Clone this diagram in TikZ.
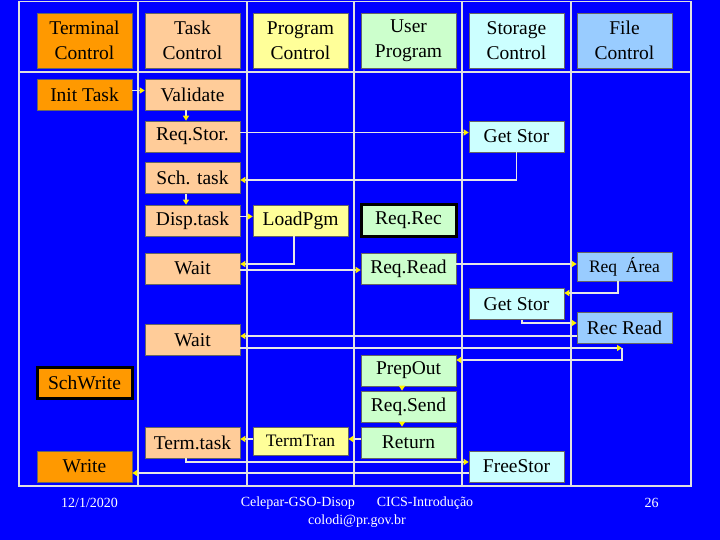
\documentclass[tikz,border=0pt]{standalone}
\usepackage{fontspec}
\setmainfont{Liberation Serif}
\usetikzlibrary{arrows.meta}
\definecolor{bg}{HTML}{0000FF}
\definecolor{orng}{HTML}{FF9900}
\definecolor{peach}{HTML}{FFCC99}
\definecolor{lyel}{HTML}{FFFF99}
\definecolor{lgrn}{HTML}{CCFFCC}
\definecolor{lcyan}{HTML}{CCFFFF}
\definecolor{lblue}{HTML}{99CCFF}
\definecolor{wire}{HTML}{E6E6E6}
\definecolor{gridc}{HTML}{E0E0E0}
\begin{document}
\begin{tikzpicture}[x=1pt,y=-1pt,
  box/.style={draw=black!60, line width=0.6pt, inner sep=0pt, minimum width=95pt,
    minimum height=31pt, font=\fontsize{19.5}{22}\selectfont, text=black},
  hdr/.style={box, minimum height=55pt, align=center, font=\fontsize{19.5}{25}\selectfont},
  boldbox/.style={box, draw=black, line width=3pt},
  smallbox/.style={box, font=\fontsize{17.5}{20}\selectfont},
  gridline/.style={draw=gridc, line width=1.1pt},
  conn/.style={draw=wire, line width=1.8pt, -{Triangle[length=5pt,width=6pt,color=yellow]}},
  foot/.style={text=white, font=\fontsize{14}{16}\selectfont, inner sep=0pt}
]
\fill[bg] (0,0) rectangle (720,540);
\useasboundingbox (0,0) rectangle (720,540);
% grid
\draw[gridline] (19,1.5) rectangle (691,486);
\draw[gridline] (19,72) -- (691,72);
\foreach \gx in {138,247,354,462,571} \draw[gridline] (\gx,1.5) -- (\gx,486);
% header
\node[hdr, fill=orng]  (term) at (84.5,40.5)  {Terminal\\Control};
\node[hdr, fill=peach] (task) at (192.5,40.5) {Task\\Control};
\node[hdr, fill=lyel]  (prog) at (300.5,40.5) {Program\\Control};
\node[hdr, fill=lgrn]  (user) at (408.5,40.5) {User\\Program};
\node[hdr, fill=lcyan] (stor) at (516.5,40.5) {Storage\\Control};
\node[hdr, fill=lblue] (file) at (624.5,40.5) {File\\Control};
% nodes
\node[box, fill=orng]  (init)     at (84.5,94.5)   {Init Task};
\node[box, fill=peach] (valid)    at (192.5,94.5)  {Validate};
\node[box, fill=peach] (reqstor)  at (192.5,136.5) {Req.Stor.};
\node[box, fill=lcyan] (getstor1) at (516.5,136.5) {Get Stor};
\node[box, fill=peach] (schtask)  at (192.5,178)   {Sch. task};
\node[box, fill=peach] (disp)     at (192.5,220.5) {Disp.task};
\node[box, fill=lyel]  (load)     at (300.5,220.5) {LoadPgm};
\node[boldbox, fill=lgrn] (reqrec) at (408.5,220.5) {Req.Rec};
\node[box, fill=peach] (wait1)    at (192.5,268.5) {Wait};
\node[box, fill=lgrn]  (reqread)  at (408.5,268.5) {Req.Read};
\node[smallbox, fill=lblue, minimum height=29pt] (reqarea) at (624.5,266.5) {Req\ \ Área};
\node[box, fill=lcyan] (getstor2) at (516.5,304)   {Get Stor};
\node[box, fill=lblue] (recread)  at (624.5,328)   {Rec Read};
\node[box, fill=peach] (wait2)    at (192.5,340)   {Wait};
\node[boldbox, fill=orng] (schwrite) at (84.5,382.5) {SchWrite};
\node[box, fill=lgrn]  (prepout)  at (408.5,370.5) {PrepOut};
\node[box, fill=lgrn]  (reqsend)  at (408.5,406.5) {Req.Send};
\node[box, fill=lgrn]  (return)   at (408.5,442.5) {Return};
\node[smallbox, fill=lyel, minimum height=28pt] (termtran) at (300.5,441) {TermTran};
\node[box, fill=peach] (termtask) at (192.5,442.5) {Term.task};
\node[box, fill=lcyan] (freestor) at (516.5,466.5) {FreeStor};
\node[box, fill=orng]  (write)    at (84.5,466.5)  {Write};
\coordinate (rr) at (622,348);
% connectors
\draw[conn] ([yshift=4pt]init.east) -- ([yshift=4pt]valid.west);
\draw[conn] ([xshift=-6.5pt]valid.south) -- ([xshift=-6.5pt]reqstor.north);
\draw[conn] ([yshift=4pt]reqstor.east) -- ([yshift=4pt]getstor1.west);
\draw[conn] (getstor1.south) |- ([yshift=-2pt]schtask.east);
\draw[conn] ([xshift=-6.5pt]schtask.south) -- ([xshift=-6.5pt]disp.north);
\draw[conn] ([yshift=4pt]disp.east) -- ([yshift=4pt]load.west);
\draw[conn] ([xshift=-6.5pt]load.south) |- ([yshift=4.5pt]wait1.east);
\draw[conn] ([yshift=-1.5pt]wait1.east) -- ([yshift=-1.5pt]reqread.west);
\draw[conn] ([yshift=4.5pt]reqread.east) -- ([yshift=2.5pt]reqarea.west);
\draw[conn] ([xshift=-6.5pt]reqarea.south) |- ([yshift=11pt]getstor2.east);
\draw[conn] ([xshift=5.5pt]getstor2.south) |- ([yshift=5pt]recread.west);
\draw[conn] ([yshift=-8pt]recread.west) -- ([yshift=4pt]wait2.east);
\draw[conn] ([yshift=-8pt]wait2.east) -- (rr);
\draw[conn] (rr) |- ([yshift=10.5pt]prepout.east);
\draw[conn] ([xshift=-6.5pt]prepout.south) -- ([xshift=-6.5pt]reqsend.north);
\draw[conn] ([xshift=-6.5pt]reqsend.south) -- ([xshift=-6.5pt]return.north);
\draw[conn] ([yshift=3.5pt]return.west) -- ([yshift=2pt]termtran.east);
\draw[conn] ([yshift=2pt]termtran.west) -- ([yshift=3.5pt]termtask.east);
\draw[conn] ([xshift=-6.5pt]termtask.south) |- ([yshift=4.5pt]freestor.west);
\draw[conn] ([yshift=-6.5pt]freestor.west) -- ([yshift=-6.5pt]write.east);
% footer
\node[foot] (date) at (89.5,503) {12/1/2020};
\node[foot] (ftitle) at (357,503) {Celepar-GSO-Disop\hspace{22pt}CICS-Introdução};
\node[foot] (mail) at (357,521.5) {colodi@pr.gov.br};
\node[foot] (page) at (651.5,503) {26};
\end{tikzpicture}
\end{document}
